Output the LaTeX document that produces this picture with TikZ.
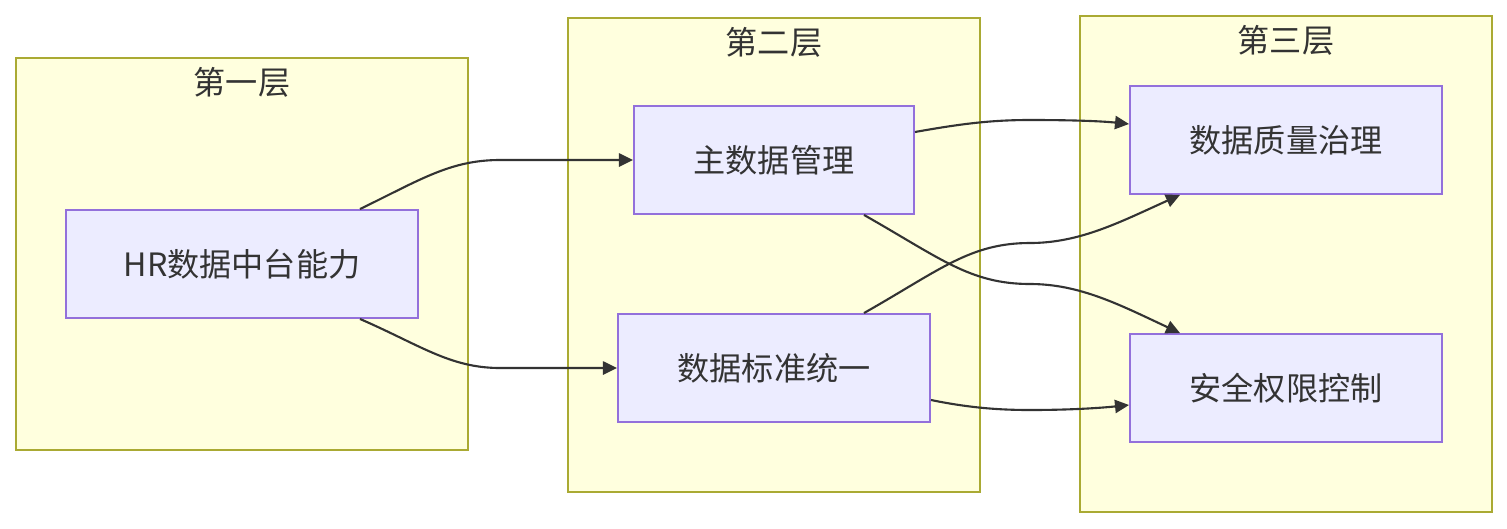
\documentclass[tikz,border=0pt]{standalone}
\usepackage{fontspec}
\setmainfont{Noto Sans CJK SC}
\usetikzlibrary{arrows.meta,calc}
\definecolor{nodefill}{HTML}{ECECFF}
\definecolor{nodestroke}{HTML}{9370DB}
\definecolor{clusterfill}{HTML}{FFFFDE}
\definecolor{clusterstroke}{HTML}{AAAA33}
\definecolor{edgecol}{HTML}{333333}
\definecolor{txt}{HTML}{333333}
\begin{document}
\begin{tikzpicture}[x=0.02cm,y=-0.02cm,
  cluster/.style={draw=clusterstroke,fill=clusterfill,line width=1.1pt},
  ctitle/.style={text=txt,font=\fontsize{18.3pt}{20pt}\selectfont,inner sep=0pt},
  box/.style={draw=nodestroke,fill=nodefill,line width=1.1pt,text=txt,
    font=\fontsize{18.3pt}{20pt}\selectfont,inner sep=0pt,
    minimum height=108*0.02cm},
  edge/.style={draw=edgecol,line width=1.2pt,-{Triangle[length=8pt,width=7.5pt]}}]
\useasboundingbox (0,0) rectangle (1507,528);
\fill[white] (0,0) rectangle (1507,528);
% clusters
\draw[cluster] (16,58) rectangle (468,450);
\draw[cluster] (568,18) rectangle (980,492);
\draw[cluster] (1080,16) rectangle (1492,512);
\node[ctitle] (t1) at (242,82) {第一层};
\node[ctitle] (t2) at (774,42) {第二层};
\node[ctitle] (t3) at (1286,40) {第三层};
% nodes
\node[box,minimum width=352*0.02cm] (hr) at (242,264) {HR数据中台能力};
\node[box,minimum width=280*0.02cm] (md) at (774,160) {主数据管理};
\node[box,minimum width=312*0.02cm] (std) at (774,368) {数据标准统一};
\node[box,minimum width=312*0.02cm] (dq) at (1286,140) {数据质量治理};
\node[box,minimum width=312*0.02cm] (sec) at (1286,388) {安全权限控制};
% edges
\draw[edge] ($(hr.north)+(118,0)$) .. controls (420,180) and (450,160) .. (500,160) -- (md.west);
\draw[edge] ($(hr.south)+(118,0)$) .. controls (420,345) and (450,368) .. (500,368) -- (std.west);
\draw[edge] ($(md.east)+(0,-28)$) .. controls (960,124) and (990,120) .. (1030,120) .. controls (1070,120) and (1100,121) .. ($(dq.west)+(0,-16)$);
\draw[edge] ($(md.south)+(90,0)$) .. controls (940,258) and (970,284) .. (1030,284) .. controls (1080,284) and (1120,305) .. ($(sec.north)+(-106,0)$);
\draw[edge] ($(std.north)+(90,0)$) .. controls (940,270) and (970,243) .. (1030,243) .. controls (1080,243) and (1120,222) .. ($(dq.south)+(-106,0)$);
\draw[edge] ($(std.east)+(0,32)$) .. controls (970,408) and (1000,410) .. (1030,410) .. controls (1070,410) and (1100,408) .. ($(sec.west)+(0,17)$);
\end{tikzpicture}
\end{document}
